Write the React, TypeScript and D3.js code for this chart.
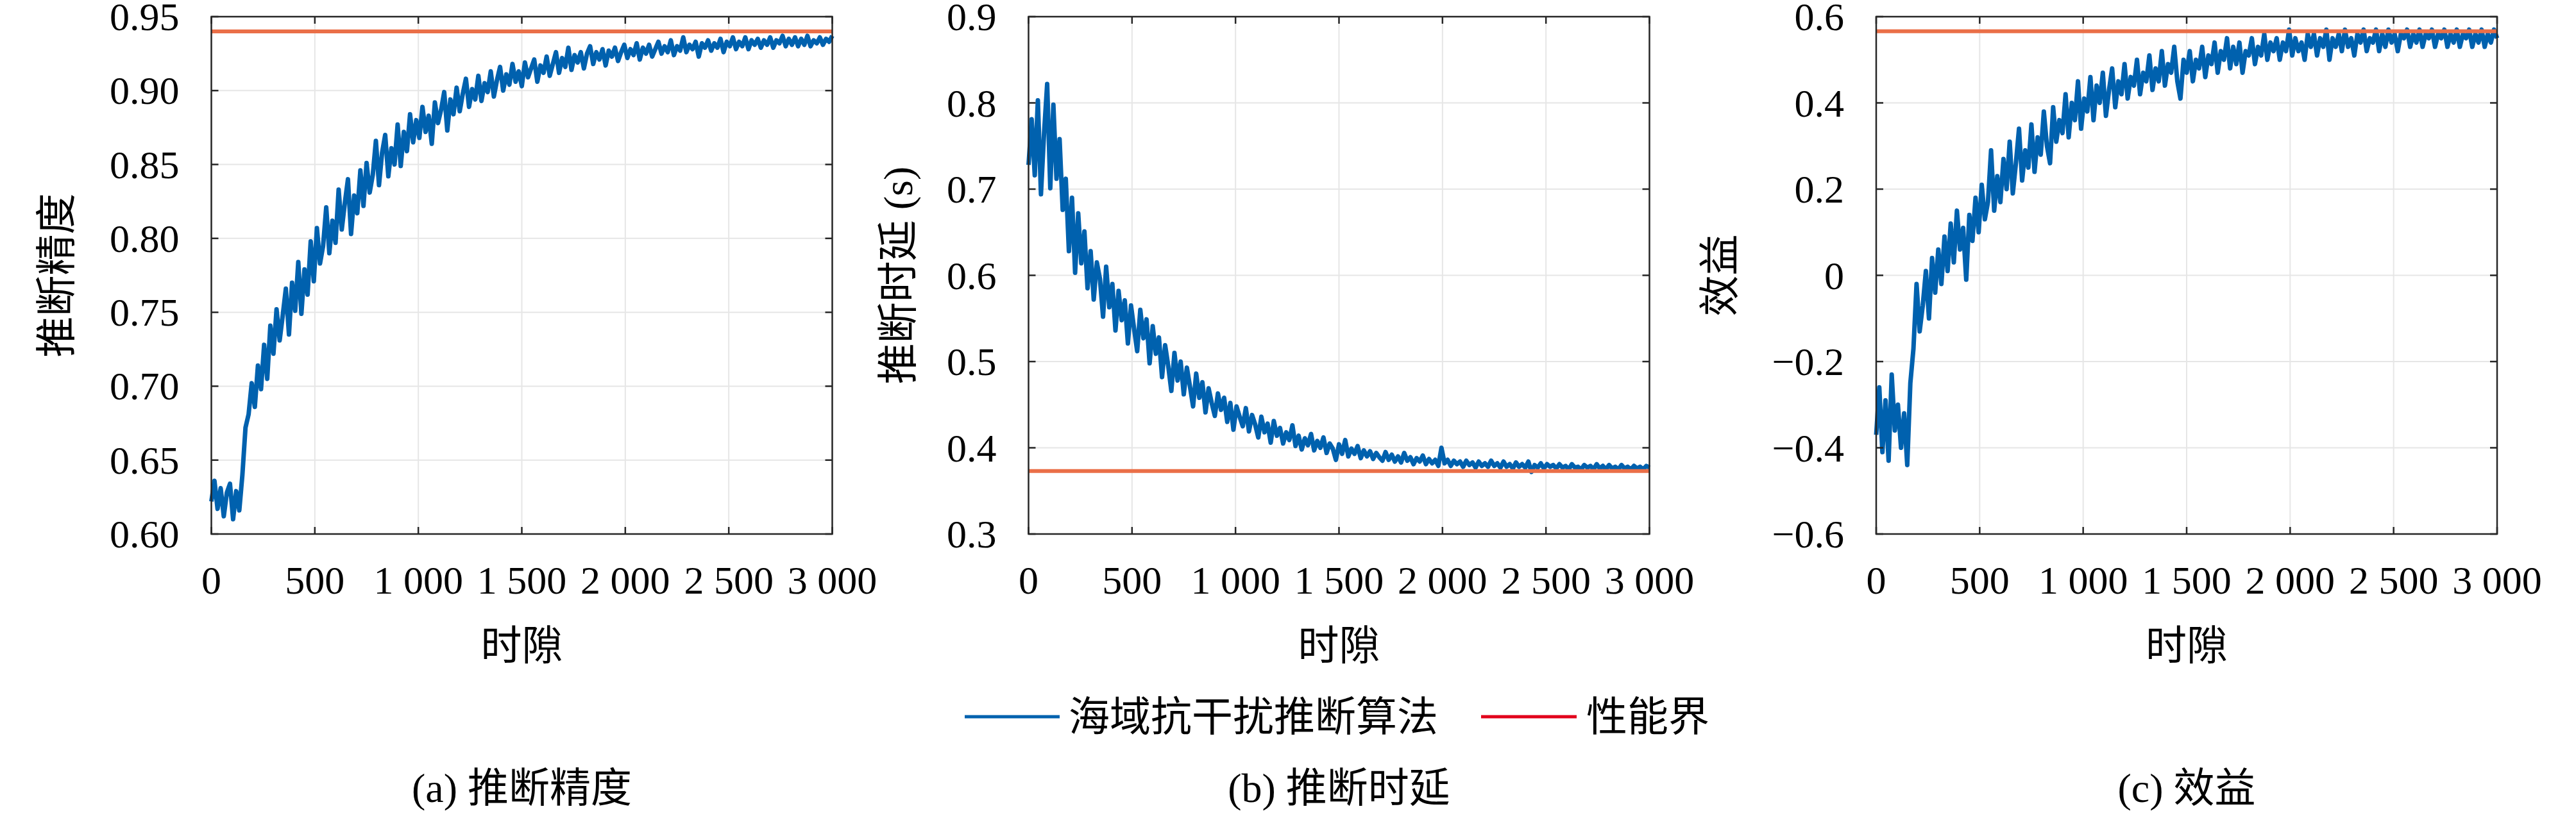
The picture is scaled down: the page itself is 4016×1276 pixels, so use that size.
import * as d3 from 'd3';

// ---- data (one value every 15 slots) ----
const slotStep = 15;

const accuracy = [
  0.622, 0.636, 0.617, 0.631, 0.612, 0.628, 0.634, 0.610, 0.629, 0.616,
  0.640, 0.672, 0.681, 0.702, 0.686, 0.714, 0.698, 0.728, 0.705, 0.741,
  0.722, 0.752, 0.731, 0.748, 0.766, 0.735, 0.770, 0.751, 0.784, 0.749,
  0.779, 0.762, 0.798, 0.771, 0.807, 0.783, 0.795, 0.821, 0.790, 0.812,
  0.797, 0.833, 0.806, 0.824, 0.840, 0.803, 0.829, 0.817, 0.846, 0.822,
  0.851, 0.831, 0.843, 0.866, 0.836, 0.858, 0.870, 0.842, 0.861, 0.850,
  0.877, 0.849, 0.872, 0.859, 0.884, 0.865, 0.880, 0.868, 0.889, 0.872,
  0.883, 0.864, 0.892, 0.878, 0.887, 0.899, 0.873, 0.894, 0.884, 0.902,
  0.886, 0.898, 0.908, 0.889, 0.901, 0.894, 0.910, 0.893, 0.905, 0.899,
  0.913, 0.896, 0.907, 0.916, 0.900, 0.911, 0.904, 0.918, 0.906, 0.913,
  0.903, 0.919, 0.909, 0.915, 0.921, 0.906, 0.917, 0.912, 0.923, 0.910,
  0.918, 0.926, 0.912, 0.922, 0.916, 0.929, 0.914, 0.924, 0.919, 0.926,
  0.915, 0.925, 0.930, 0.918, 0.926, 0.921, 0.928, 0.917, 0.927, 0.923,
  0.929, 0.920, 0.926, 0.931, 0.922, 0.928, 0.924, 0.932, 0.921, 0.929,
  0.925, 0.931, 0.923, 0.928, 0.933, 0.925, 0.930, 0.926, 0.934, 0.924,
  0.930, 0.927, 0.936, 0.926, 0.931, 0.928, 0.933, 0.923, 0.932, 0.929,
  0.934, 0.927, 0.932, 0.929, 0.935, 0.926, 0.933, 0.930, 0.936, 0.928,
  0.933, 0.930, 0.936, 0.928, 0.934, 0.931, 0.935, 0.929, 0.934, 0.931,
  0.936, 0.929, 0.934, 0.932, 0.937, 0.930, 0.935, 0.931, 0.936, 0.930,
  0.935, 0.931, 0.937, 0.930, 0.934, 0.932, 0.936, 0.931, 0.935, 0.933,
  0.937,
];

const latency = [
  0.728, 0.781, 0.716, 0.803, 0.694, 0.765, 0.822, 0.701, 0.798, 0.712,
  0.758, 0.676, 0.712, 0.628, 0.690, 0.603, 0.672, 0.614, 0.651, 0.585,
  0.628, 0.572, 0.615, 0.596, 0.552, 0.610, 0.563, 0.590, 0.536, 0.582,
  0.548, 0.571, 0.521, 0.565, 0.538, 0.512, 0.560, 0.527, 0.549, 0.498,
  0.541, 0.509, 0.528, 0.482, 0.519, 0.495, 0.466, 0.510, 0.478, 0.500,
  0.462, 0.493, 0.471, 0.448, 0.486, 0.458, 0.476, 0.441, 0.469, 0.452,
  0.437, 0.463, 0.444, 0.458, 0.430, 0.452, 0.421, 0.448, 0.436, 0.425,
  0.446, 0.419, 0.438, 0.427, 0.412, 0.436, 0.418, 0.428, 0.406, 0.431,
  0.414, 0.423, 0.405, 0.418, 0.409, 0.426, 0.402, 0.414, 0.398, 0.411,
  0.403, 0.416, 0.397, 0.408, 0.400, 0.412, 0.394, 0.405, 0.399, 0.386,
  0.404, 0.393, 0.409, 0.390, 0.399, 0.393, 0.402, 0.388, 0.397, 0.390,
  0.396, 0.387, 0.394, 0.389, 0.385, 0.395, 0.386, 0.392, 0.384, 0.390,
  0.383, 0.394, 0.385, 0.389, 0.381, 0.388, 0.384, 0.391, 0.381, 0.387,
  0.382, 0.386, 0.379, 0.400, 0.382, 0.386, 0.379, 0.385, 0.381, 0.384,
  0.378, 0.385, 0.380, 0.383, 0.377, 0.384, 0.379, 0.382, 0.378, 0.385,
  0.379, 0.382, 0.377, 0.384, 0.378, 0.381, 0.376, 0.383, 0.378, 0.381,
  0.377, 0.384, 0.372, 0.380, 0.377, 0.382, 0.376, 0.381, 0.378, 0.380,
  0.376, 0.381, 0.377, 0.379, 0.375, 0.381, 0.377, 0.378, 0.375, 0.380,
  0.377, 0.379, 0.375, 0.381, 0.376, 0.379, 0.375, 0.380, 0.376, 0.378,
  0.375, 0.380, 0.376, 0.378, 0.375, 0.379, 0.376, 0.378, 0.375, 0.379,
  0.377,
];

const utility = [
  -0.37, -0.26, -0.41, -0.29, -0.43, -0.23, -0.36, -0.30, -0.40, -0.32,
  -0.44, -0.25, -0.17, -0.02, -0.13, -0.07, 0.01, -0.10, 0.04, -0.04,
  0.06, -0.02, 0.09, 0.01, 0.12, 0.03, 0.15, 0.06, 0.11, -0.01,
  0.14, 0.08, 0.18, 0.10, 0.21, 0.13, 0.17, 0.29, 0.15, 0.23,
  0.17, 0.27, 0.20, 0.31, 0.19, 0.26, 0.34, 0.22, 0.29, 0.25,
  0.35, 0.24, 0.32, 0.28, 0.38, 0.30, 0.26, 0.39, 0.31, 0.36,
  0.33, 0.42, 0.32, 0.40, 0.36, 0.45, 0.34, 0.41, 0.38, 0.46,
  0.36, 0.44, 0.40, 0.47, 0.37, 0.43, 0.48, 0.39, 0.45, 0.42,
  0.49, 0.41, 0.46, 0.44, 0.50, 0.42, 0.47, 0.45, 0.51, 0.43,
  0.48, 0.45, 0.52, 0.44, 0.49, 0.47, 0.53, 0.45, 0.41, 0.50,
  0.47, 0.52, 0.45, 0.50, 0.48, 0.53, 0.46, 0.51, 0.49, 0.54,
  0.47, 0.52, 0.50, 0.55, 0.48, 0.53, 0.49, 0.54, 0.47, 0.52,
  0.51, 0.55, 0.49, 0.53, 0.51, 0.56, 0.50, 0.54, 0.52, 0.55,
  0.50, 0.54, 0.52, 0.57, 0.51, 0.55, 0.52, 0.54, 0.50, 0.56,
  0.53, 0.56, 0.51, 0.55, 0.53, 0.57, 0.50, 0.55, 0.53, 0.56,
  0.52, 0.57, 0.53, 0.55, 0.51, 0.56, 0.54, 0.57, 0.52, 0.55,
  0.54, 0.57, 0.52, 0.56, 0.53, 0.57, 0.54, 0.56, 0.52, 0.56,
  0.55, 0.57, 0.53, 0.56, 0.54, 0.57, 0.53, 0.56, 0.55, 0.57,
  0.53, 0.56, 0.55, 0.57, 0.53, 0.56, 0.54, 0.57, 0.53, 0.56,
  0.55, 0.57, 0.53, 0.56, 0.54, 0.57, 0.53, 0.56, 0.54, 0.57,
  0.55,
];

const accuracyBound = 0.94;
const latencyBound = 0.373;
const utilityBound = 0.566;

const xTicks = [0, 500, 1000, 1500, 2000, 2500, 3000];
const accuracyTicks = [0.6, 0.65, 0.7, 0.75, 0.8, 0.85, 0.9, 0.95];
const latencyTicks = [0.3, 0.4, 0.5, 0.6, 0.7, 0.8, 0.9];
const utilityTicks = [-0.6, -0.4, -0.2, 0, 0.2, 0.4, 0.6];

const legendLabels = ['海域抗干扰推断算法', '性能界'];

// ---- layout ----
const W = 4016;
const H = 1276;
const plotTop = 26;
const plotBottom = 833;
const plotWidth = 968;
const FONT = '"Liberation Serif", "Noto Sans CJK SC", serif';
const BLUE = '#0061ae';
const ORANGE = '#ea6f48';
const LEGEND_RED = '#e2001a';

const panels = [
  {
    left: 329.5, data: accuracy, bound: accuracyBound, domain: [0.6, 0.95], ticks: accuracyTicks,
    fmt: d3.format('.2f'), ylabel: '推断精度', labelDx: 241, caption: '(a) 推断精度',
  },
  {
    left: 1603.5, data: latency, bound: latencyBound, domain: [0.3, 0.9], ticks: latencyTicks,
    fmt: d3.format('.1f'), ylabel: '推断时延 (s)', labelDx: 203, caption: '(b) 推断时延',
  },
  {
    left: 2925, data: utility, bound: utilityBound, domain: [-0.6, 0.6], ticks: utilityTicks,
    fmt: (v: number) => (v === 0 ? '0' : d3.format('.1f')(v)), ylabel: '效益', labelDx: 244, caption: '(c) 效益',
  },
];

const fmtSlot = (v: number) => d3.format(',')(v).replace(/,/g, ' ');

function Panel({ p }: { p: typeof panels[number] }) {
  const x = d3.scaleLinear().domain([0, 3000]).range([p.left, p.left + plotWidth]);
  const y = d3.scaleLinear().domain(p.domain).range([plotBottom, plotTop]);
  const line = d3.line<number>()
    .x((_, i) => x(i * slotStep))
    .y(d => y(d));
  const right = p.left + plotWidth;
  const cx = p.left + plotWidth / 2;
  const tickLen = 11;

  return (
    <g>
      {/* grid */}
      {xTicks.slice(1, -1).map(t => (
        <line key={'gx' + t} x1={x(t)} x2={x(t)} y1={plotTop} y2={plotBottom} stroke="#e6e6e6" strokeWidth={2} />
      ))}
      {p.ticks.slice(1, -1).map(t => (
        <line key={'gy' + t} x1={p.left} x2={right} y1={y(t)} y2={y(t)} stroke="#e6e6e6" strokeWidth={2} />
      ))}

      {/* series */}
      <path d={line(p.data) ?? ''} fill="none" stroke={BLUE} strokeWidth={7} strokeLinejoin="round" />
      <line x1={p.left} x2={right} y1={y(p.bound)} y2={y(p.bound)} stroke={ORANGE} strokeWidth={6} />

      {/* box + ticks */}
      <rect x={p.left} y={plotTop} width={plotWidth} height={plotBottom - plotTop} fill="none" stroke="#262626" strokeWidth={2.5} />
      {xTicks.map(t => (
        <g key={'tx' + t}>
          <line x1={x(t)} x2={x(t)} y1={plotBottom} y2={plotBottom - tickLen} stroke="#262626" strokeWidth={2.5} />
          <line x1={x(t)} x2={x(t)} y1={plotTop} y2={plotTop + tickLen} stroke="#262626" strokeWidth={2.5} />
          <text x={x(t)} y={926} textAnchor="middle" fontFamily={FONT} fontSize={62}>{fmtSlot(t)}</text>
        </g>
      ))}
      {p.ticks.map(t => (
        <g key={'ty' + t}>
          <line x1={p.left} x2={p.left + tickLen} y1={y(t)} y2={y(t)} stroke="#262626" strokeWidth={2.5} />
          <line x1={right} x2={right - tickLen} y1={y(t)} y2={y(t)} stroke="#262626" strokeWidth={2.5} />
          <text x={p.left - 50} y={y(t) + 21} textAnchor="end" fontFamily={FONT} fontSize={62}>{p.fmt(t)}</text>
        </g>
      ))}

      {/* labels */}
      <text x={cx} y={1007} textAnchor="middle" dominantBaseline="central" fontFamily={FONT} fontSize={64}>时隙</text>
      <text
        transform={`translate(${p.left - p.labelDx},${(plotTop + plotBottom) / 2}) rotate(-90)`}
        textAnchor="middle" dominantBaseline="central" fontFamily={FONT} fontSize={64}
      >{p.ylabel}</text>
      <text x={cx} y={1229} textAnchor="middle" dominantBaseline="central" fontFamily={FONT} fontSize={64}>{p.caption}</text>
    </g>
  );
}

export default function App() {
  const legendY = 1118;
  return (
    <svg width={W} height={H} style={{ position: 'absolute', left: 0, top: 0, background: '#fff' }}>
      <rect width={W} height={H} fill="#fff" />
      {panels.map((p, i) => <Panel key={i} p={p} />)}

      <g>
        <line x1={1504} x2={1652} y1={legendY} y2={legendY} stroke={BLUE} strokeWidth={5} />
        <text x={1666} y={legendY} dominantBaseline="central" fontFamily={FONT} fontSize={64}>{legendLabels[0]}</text>
        <line x1={2309} x2={2458} y1={legendY} y2={legendY} stroke={LEGEND_RED} strokeWidth={5} />
        <text x={2473} y={legendY} dominantBaseline="central" fontFamily={FONT} fontSize={64}>{legendLabels[1]}</text>
      </g>
    </svg>
  );
}
